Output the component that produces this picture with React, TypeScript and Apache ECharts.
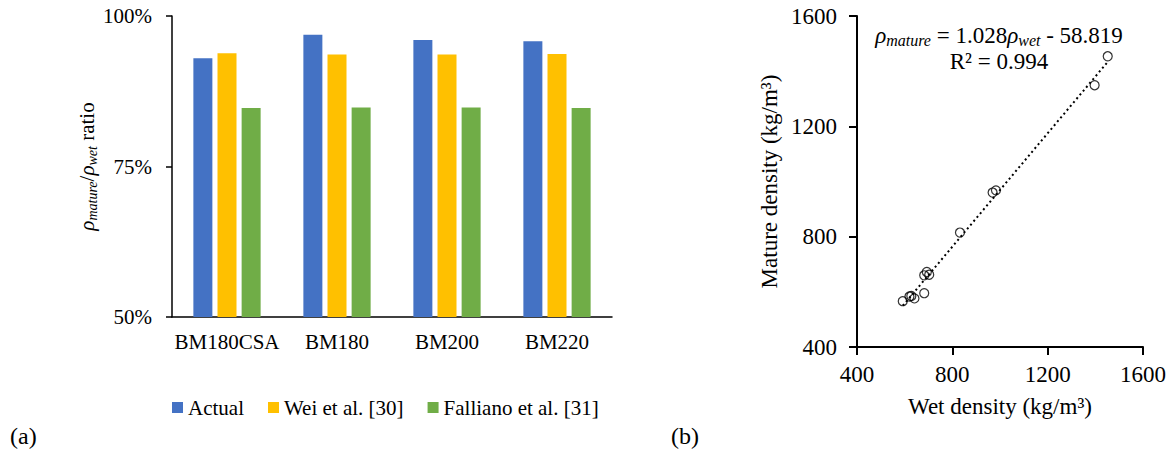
import React, { useEffect, useRef } from "react";
import * as echarts from "echarts";

const categories = ["BM180CSA", "BM180", "BM200", "BM220"];
const actualRatio = [93.0, 96.9, 96.0, 95.8];
const weiRatio = [93.8, 93.6, 93.6, 93.7];
const fallianoRatio = [84.7, 84.8, 84.8, 84.7];
const ratioTicks = { min: 50, max: 100, interval: 25 };

const wetDensity = [592, 620, 628, 641, 682, 682, 693, 703, 832, 969, 983, 1397, 1452];
const matureDensity = [566, 583, 585, 576, 595, 660, 672, 662, 815, 960, 968, 1349, 1454];
const densityTicks = { min: 400, max: 1600, interval: 400 };
const fitSlope = 1.028;
const fitIntercept = -58.819;
const fitR2 = 0.994;

const FONT = "Liberation Serif";

export default function App() {
  const ref = useRef<HTMLDivElement>(null);
  useEffect(() => {
    if (!ref.current) return;
    const chart = echarts.init(ref.current, null, { renderer: "svg" });
    const xMin = Math.min(...wetDensity);
    const xMax = Math.max(...wetDensity);
    const fitLine = [xMin, xMax].map((x) => [x, fitSlope * x + fitIntercept]);
    const scatterData = wetDensity.map((w, i) => [w, matureDensity[i]]);
    const plain = (v: number) => String(v);

    const richSub = (size: number) => ({
      i: { fontFamily: FONT, fontStyle: "italic", fontSize: size, lineHeight: size + 4, color: "#000" },
      s: {
        fontFamily: FONT,
        fontStyle: "italic",
        fontSize: Math.round(size * 0.68),
        lineHeight: Math.round(size * 0.68),
        verticalAlign: "bottom",
        color: "#000",
      },
      n: { fontFamily: FONT, fontSize: size, lineHeight: size + 4, color: "#000" },
    });

    chart.setOption({
      animation: false,
      textStyle: { fontFamily: FONT, color: "#000" },
      grid: [
        { left: 172, top: 16, width: 440, height: 301 },
        { left: 857, top: 16, width: 286, height: 331 },
      ],
      legend: {
        data: ["Actual", "Wei et al. [30]", "Falliano et al. [31]"],
        left: 167,
        top: 392,
        icon: "rect",
        itemWidth: 11,
        itemHeight: 11,
        itemGap: 24,
        textStyle: { fontFamily: FONT, fontSize: 21, color: "#000" },
      },
      xAxis: [
        {
          gridIndex: 0,
          type: "category",
          data: categories,
          axisLine: { lineStyle: { color: "#000", width: 1.5 } },
          axisTick: { length: 6, lineStyle: { color: "#000", width: 1.5 } },
          axisLabel: { fontFamily: FONT, fontSize: 21, color: "#000", margin: 14, interval: 0 },
        },
        {
          gridIndex: 1,
          type: "value",
          min: densityTicks.min,
          max: densityTicks.max,
          interval: densityTicks.interval,
          splitLine: { show: false },
          axisLine: { lineStyle: { color: "#000", width: 2 } },
          axisTick: { show: true, length: 8, lineStyle: { color: "#000", width: 2 } },
          axisLabel: { fontFamily: FONT, fontSize: 23, color: "#000", margin: 16, formatter: plain },
          name: "Wet density (kg/m³)",
          nameLocation: "middle",
          nameGap: 48,
          nameTextStyle: { fontFamily: FONT, fontSize: 23, color: "#000" },
        },
      ],
      yAxis: [
        {
          gridIndex: 0,
          type: "value",
          min: ratioTicks.min,
          max: ratioTicks.max,
          interval: ratioTicks.interval,
          splitLine: { show: false },
          axisLine: { show: true, lineStyle: { color: "#000", width: 1.5 } },
          axisTick: { show: true, length: 6, lineStyle: { color: "#000", width: 1.5 } },
          axisLabel: { fontFamily: FONT, fontSize: 21, color: "#000", margin: 20, formatter: "{value}%" },
          name: "{i|ρ}{s|mature}{n|/}{i|ρ}{s|wet}{n| ratio}",
          nameLocation: "middle",
          nameRotate: 90,
          nameGap: 66,
          nameTextStyle: { fontFamily: FONT, fontSize: 21, color: "#000", rich: richSub(21) },
        },
        {
          gridIndex: 1,
          type: "value",
          min: densityTicks.min,
          max: densityTicks.max,
          interval: densityTicks.interval,
          splitLine: { show: false },
          axisLine: { show: true, lineStyle: { color: "#000", width: 2 } },
          axisTick: { show: true, length: 8, lineStyle: { color: "#000", width: 2 } },
          axisLabel: { fontFamily: FONT, fontSize: 23, color: "#000", margin: 20, formatter: plain },
          name: "Mature density (kg/m³)",
          nameLocation: "middle",
          nameRotate: 90,
          nameGap: 76,
          nameTextStyle: { fontFamily: FONT, fontSize: 23, color: "#000" },
        },
      ],
      series: [
        {
          name: "Actual",
          type: "bar",
          xAxisIndex: 0,
          yAxisIndex: 0,
          data: actualRatio,
          barWidth: 19,
          barGap: "27%",
          itemStyle: { color: "#4472C4" },
        },
        {
          name: "Wei et al. [30]",
          type: "bar",
          xAxisIndex: 0,
          yAxisIndex: 0,
          data: weiRatio,
          barWidth: 19,
          barGap: "27%",
          itemStyle: { color: "#FFC000" },
        },
        {
          name: "Falliano et al. [31]",
          type: "bar",
          xAxisIndex: 0,
          yAxisIndex: 0,
          data: fallianoRatio,
          barWidth: 19,
          barGap: "27%",
          itemStyle: { color: "#70AD47" },
        },
        {
          name: "Linear fit",
          type: "line",
          xAxisIndex: 1,
          yAxisIndex: 1,
          data: fitLine,
          showSymbol: false,
          symbol: "none",
          lineStyle: { color: "#000", width: 2, type: [2, 3] },
          z: 1,
        },
        {
          name: "Density",
          type: "scatter",
          xAxisIndex: 1,
          yAxisIndex: 1,
          data: scatterData,
          symbol: "circle",
          symbolSize: 9,
          itemStyle: { color: "rgba(0,0,0,0)", borderColor: "#000", borderWidth: 1.2 },
          z: 2,
        },
      ],
      graphic: [
        {
          type: "text",
          x: 999,
          y: 35,
          style: {
            text: `{i|ρ}{s|mature}{n| = ${fitSlope.toFixed(3)}}{i|ρ}{s|wet}{n| - ${Math.abs(fitIntercept).toFixed(3)}}`,
            rich: richSub(23),
            align: "center",
            verticalAlign: "middle",
            fontFamily: FONT,
            fontSize: 23,
            fill: "#000",
          },
        },
        {
          type: "text",
          x: 999,
          y: 61,
          style: {
            text: `R² = ${fitR2.toFixed(3)}`,
            align: "center",
            verticalAlign: "middle",
            fontFamily: FONT,
            fontSize: 23,
            fill: "#000",
          },
        },
        {
          type: "text",
          x: 10,
          y: 436,
          style: { text: "(a)", verticalAlign: "middle", fontFamily: FONT, fontSize: 24, fill: "#000" },
        },
        {
          type: "text",
          x: 671,
          y: 436,
          style: { text: "(b)", verticalAlign: "middle", fontFamily: FONT, fontSize: 24, fill: "#000" },
        },
      ],
    });
    return () => chart.dispose();
  }, []);
  return (
    <div
      ref={ref}
      style={{ position: "fixed", left: 0, top: 0, width: 1173, height: 452, background: "#fff" }}
    />
  );
}
